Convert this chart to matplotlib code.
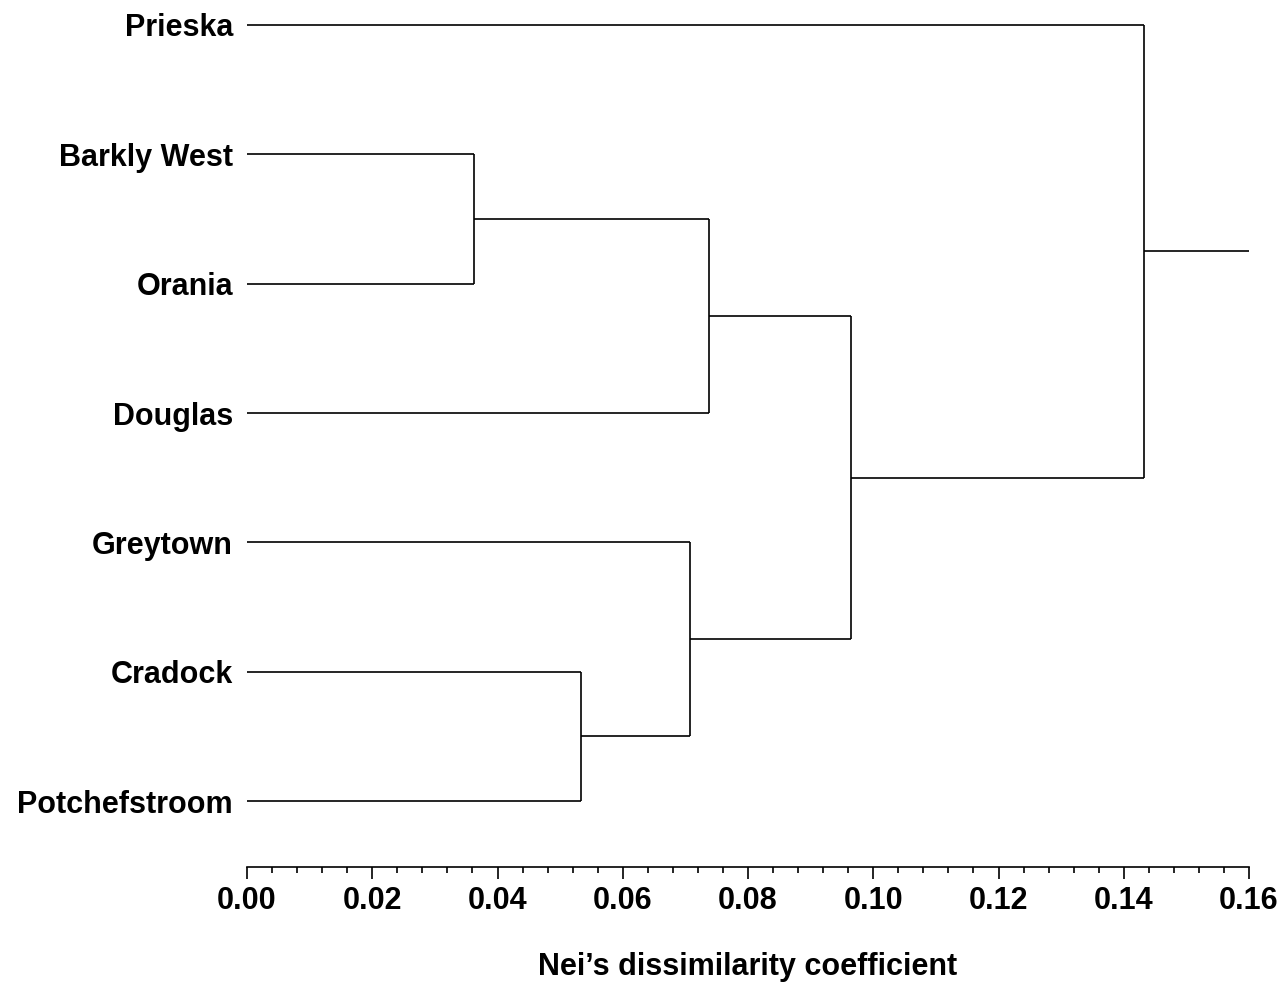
import matplotlib.pyplot as plt
from matplotlib.ticker import MultipleLocator

plt.rcParams['font.family'] = ['Liberation Sans', 'DejaVu Sans']
plt.rcParams['font.weight'] = 'bold'

# leaves, top to bottom
populations = ["Prieska", "Barkly West", "Orania", "Douglas",
               "Greytown", "Cradock", "Potchefstroom"]

# merges: (left node, right node, distance); nodes >= 7 are earlier merges
merges = [
    ("Barkly West", "Orania", 0.0362),
    ("Cradock", "Potchefstroom", 0.0533),
    ("Greytown", 8, 0.0708),
    (7, "Douglas", 0.0738),
    (10, 9, 0.0964),
    ("Prieska", 11, 0.1432),
]
root_end = 0.16

fig = plt.figure(figsize=(12.83, 9.84), dpi=100)
ax = fig.add_axes([247 / 1283, 1 - 867 / 984, 1002 / 1283, (867 - 25) / 984])

n = len(populations)
ypos = {name: n - 1 - i for i, name in enumerate(populations)}
xpos = {name: 0.0 for name in populations}
lw = 1.2

for k, (a, b, d) in enumerate(merges):
    node = n + k
    for c in (a, b):
        ax.plot([xpos[c], d], [ypos[c], ypos[c]], color="black", lw=lw,
                clip_on=False, solid_capstyle="butt")
    ax.plot([d, d], [ypos[a], ypos[b]], color="black", lw=lw,
            clip_on=False, solid_capstyle="butt")
    ypos[node] = (ypos[a] + ypos[b]) / 2
    xpos[node] = d

top = n + len(merges) - 1
ax.plot([xpos[top], root_end], [ypos[top], ypos[top]], color="black", lw=lw,
        clip_on=False, solid_capstyle="butt")

ax.set_xlim(0, 0.16)
ax.set_ylim(-0.51, n - 1)
ax.set_yticks([ypos[p] for p in populations])
ax.set_yticklabels(populations, fontsize=22, fontweight="bold")
ax.tick_params(axis="y", length=0, pad=10)

ax.xaxis.set_major_locator(MultipleLocator(0.02))
ax.xaxis.set_minor_locator(MultipleLocator(0.004))
ax.set_xticklabels([f"{v:.2f}" for v in ax.get_xticks()], fontsize=22,
                   fontweight="bold")
ax.tick_params(axis="x", which="major", length=8.6, width=1.2, pad=5)
ax.tick_params(axis="x", which="minor", length=4.3, width=1.2)
ax.set_xlabel("Nei\u2019s dissimilarity coefficient", fontsize=22,
              fontweight="bold", labelpad=26)

for s in ("left", "right", "top"):
    ax.spines[s].set_visible(False)
ax.spines["bottom"].set_linewidth(1.2)

fig.savefig("out.png", dpi=100)
